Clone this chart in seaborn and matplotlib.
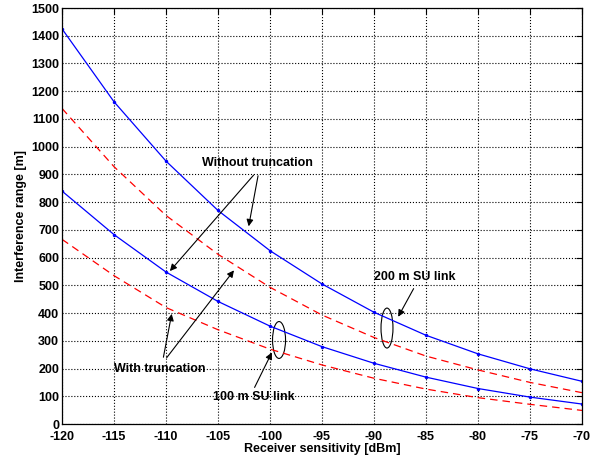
import numpy as np
import pandas as pd
import matplotlib
matplotlib.use("Agg")
import matplotlib.pyplot as plt
import seaborn as sns
from matplotlib.patches import Ellipse

# Receiver sensitivity [dBm]
sensitivity = [-120, -115, -110, -105, -100, -95, -90, -85, -80, -75, -70]

# Interference range [m]
range_200_no_trunc = [1425, 1162, 948, 770, 625, 505, 403, 320, 253, 199, 154]
range_200_trunc = [1138, 928, 752, 612, 493, 393, 312, 245, 195, 150, 113]
range_100_no_trunc = [840, 683, 548, 442, 353, 279, 219, 169, 128, 97, 72]
range_100_trunc = [666, 535, 420, 340, 270, 213, 165, 126, 95, 71, 49]


def main():
    sns.set_style("white")
    plt.rcParams['font.family'] = ['Liberation Sans', 'DejaVu Sans']
    plt.rcParams['font.weight'] = 'bold'
    plt.rcParams['axes.unicode_minus'] = False
    for k in ['text.color', 'axes.labelcolor', 'xtick.color', 'ytick.color']:
        plt.rcParams[k] = 'black'

    fig = plt.figure(figsize=(5.99, 4.63), dpi=100)
    ax = fig.add_axes([0.1035, 0.0842, 0.8681, 0.8985])

    # curvas sin truncamiento (azul) y con truncamiento (rojo)
    for vals in [range_200_no_trunc, range_100_no_trunc]:
        sns.lineplot(x=sensitivity, y=vals, ax=ax, color='blue', linewidth=0.9,
                     marker='o', markersize=2.5, markeredgewidth=0)
    for vals in [range_200_trunc, range_100_trunc]:
        sns.lineplot(x=sensitivity, y=vals, ax=ax, color='red', linewidth=0.9,
                     linestyle=(0, (6, 4)))

    ax.set_xlim(-120, -70)
    ax.set_ylim(0, 1500)
    ax.set_xticks(np.arange(-120, -69, 5))
    ax.set_yticks(np.arange(0, 1501, 100))
    ax.grid(True, color='black', linestyle=':', linewidth=0.8)
    ax.tick_params(direction='in', top=True, right=True, length=4,
                   labelsize=9, width=0.8)
    ax.tick_params(axis='x', pad=5)
    ax.tick_params(axis='y', pad=2)
    for lbl in ax.get_xticklabels() + ax.get_yticklabels():
        lbl.set_fontweight('bold')
    for s in ax.spines.values():
        s.set_color('black')
        s.set_linewidth(0.9)

    ax.set_xlabel('Receiver sensitivity [dBm]', fontsize=9, fontweight='bold', labelpad=0)
    ax.set_ylabel('Interference range [m]', fontsize=9, fontweight='bold', labelpad=3)

    arrow = dict(arrowstyle='-|>', color='black', lw=0.8, mutation_scale=10)
    fs = 9

    ax.text(-101.25, 941, 'Without truncation', ha='center', va='center', fontsize=fs, fontweight='bold')
    ax.annotate('', xy=(-102.1, 703), xytext=(-101.1, 905), arrowprops=arrow)
    ax.annotate('', xy=(-109.8, 544), xytext=(-101.4, 905), arrowprops=arrow)

    ax.text(-110.6, 198, 'With truncation', ha='center', va='center', fontsize=fs, fontweight='bold')
    ax.annotate('', xy=(-109.4, 407), xytext=(-110.3, 231), arrowprops=arrow)
    ax.annotate('', xy=(-103.3, 562), xytext=(-110.1, 231), arrowprops=arrow)

    ax.text(-86.06, 530, '200 m SU link', ha='center', va='center', fontsize=fs, fontweight='bold')
    ax.annotate('', xy=(-87.8, 378), xytext=(-86.06, 497), arrowprops=arrow)
    ax.add_patch(Ellipse((-88.75, 346), 1.15, 144, fill=False, edgecolor='black', lw=0.8))

    ax.text(-101.6, 97, '100 m SU link', ha='center', va='center', fontsize=fs, fontweight='bold')
    ax.annotate('', xy=(-99.7, 267), xytext=(-101.6, 123), arrowprops=arrow)
    ax.add_patch(Ellipse((-99.13, 303), 1.25, 133, fill=False, edgecolor='black', lw=0.8))

    fig.savefig('out.png', dpi=100)


if __name__ == "__main__":
    main()
